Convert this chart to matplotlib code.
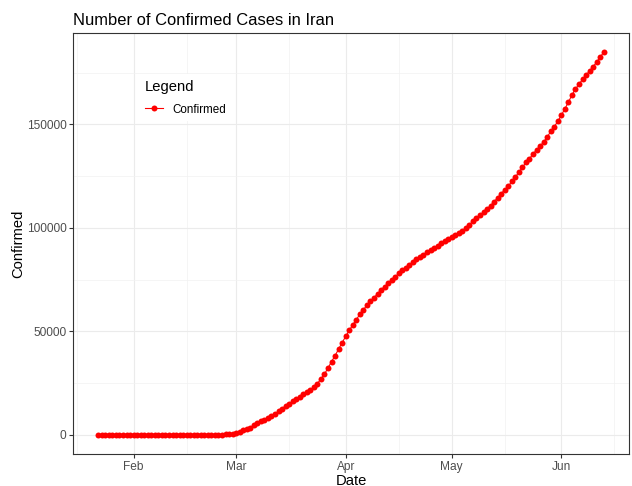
import matplotlib

matplotlib.use("Agg")
import matplotlib.dates as mdates
import matplotlib.pyplot as plt
import numpy as np
import pandas as pd

# Iran, cumulative confirmed cases, daily from 2020-01-22
start_date = "2020-01-22"
confirmed = [
    0, 0, 0, 0, 0, 0, 0, 0, 0, 0,  # Jan 22-31
    0, 0, 0, 0, 0, 0, 0, 0, 0, 0,  # Feb 1-10
    0, 0, 0, 0, 0, 0, 0, 0, 2, 5,  # Feb 11-20
    18, 28, 43, 61, 95, 139, 245, 388, 593,  # Feb 21-29
    978, 1501, 2336, 2922, 3513, 4747, 5823, 6566, 7161, 8042,
    9000, 10075, 11364, 12729, 13938, 14991, 16169, 17361, 18407, 19644,
    20610, 21638, 23049, 24811, 27017, 29406, 32332, 35408, 38309, 41495,
    44605,  # Mar
    47593, 50468, 53183, 55743, 58226, 60500, 62589, 64586, 66220, 68192,
    70029, 71686, 73303, 74877, 76389, 77995, 79494, 80868, 82211, 83505,
    84802, 85996, 87026, 88194, 89328, 90481, 91472, 92584, 93657, 94640,  # Apr
    95646, 96448, 97424, 98647, 99970, 101650, 103135, 104691, 106220, 107603,
    109286, 110767, 112725, 114533, 116635, 118392, 120198, 122492, 124603, 126949,
    129341, 131652, 133521, 135701, 137724, 139511, 141591, 143849, 146668, 148950,
    151466,  # May
    154445, 157562, 160696, 164270, 167156, 169425, 171789, 173832, 175927, 177938,
    180156, 182525, 184955,  # Jun 1-13
]
dates = pd.date_range(start_date, periods=len(confirmed), freq="D")

plt.rcParams["font.family"] = ["Liberation Sans", "DejaVu Sans"]

fig = plt.figure(figsize=(6.32, 4.86), dpi=100)
W, H = 632, 486
ax = fig.add_axes([73 / W, (H - 454) / H, (629 - 73) / W, (454 - 33) / H])

ax.plot(dates, confirmed, color="#FF0000", linewidth=0.8, marker="o",
        markersize=4.3, markeredgewidth=0, label="Confirmed", zorder=3)

# ggplot-like expansion of 5%
x0 = mdates.date2num(dates[0])
x1 = mdates.date2num(dates[-1])
dx = (x1 - x0) * 0.05
ax.set_xlim(x0 - dx, x1 + dx)
ymax = max(confirmed)
ax.set_ylim(-ymax * 0.05, ymax * 1.05)

ax.xaxis.set_major_locator(mdates.MonthLocator())
ax.xaxis.set_major_formatter(mdates.DateFormatter("%b"))
ax.xaxis.set_minor_locator(mdates.MonthLocator(bymonthday=16))
ax.set_yticks([0, 50000, 100000, 150000])
ax.set_yticks([25000, 75000, 125000, 175000], minor=True)
ax.yaxis.set_major_formatter(matplotlib.ticker.FuncFormatter(lambda v, p: f"{int(v)}"))

ax.grid(which="major", color="#EBEBEB", linewidth=0.8)
ax.grid(which="minor", color="#F2F2F2", linewidth=0.5)
ax.set_axisbelow(True)
ax.tick_params(which="major", length=2.6, width=0.8, color="#333333",
               labelcolor="#4D4D4D", labelsize=8.6, pad=2.2)
ax.tick_params(which="minor", length=0)
for spine in ax.spines.values():
    spine.set_color("#333333")
    spine.set_linewidth(0.8)

ax.set_xlabel("Date", fontsize=10.6, labelpad=1)
ax.set_ylabel("Confirmed", fontsize=10.6, labelpad=1)
ax.set_title("Number of Confirmed Cases in Iran", fontsize=11.9, loc="left", pad=6)

leg = ax.legend(title="Legend", loc="upper left",
                bbox_to_anchor=(133 / W, 1 - 68 / H), bbox_transform=fig.transFigure,
                fontsize=8.4, title_fontsize=10.6, frameon=True, fancybox=False,
                edgecolor="none", facecolor="white", framealpha=1,
                handlelength=1.6, handletextpad=0.8, borderpad=0.5,
                labelspacing=0.85, alignment="left")

fig.savefig("out.png", dpi=100)
